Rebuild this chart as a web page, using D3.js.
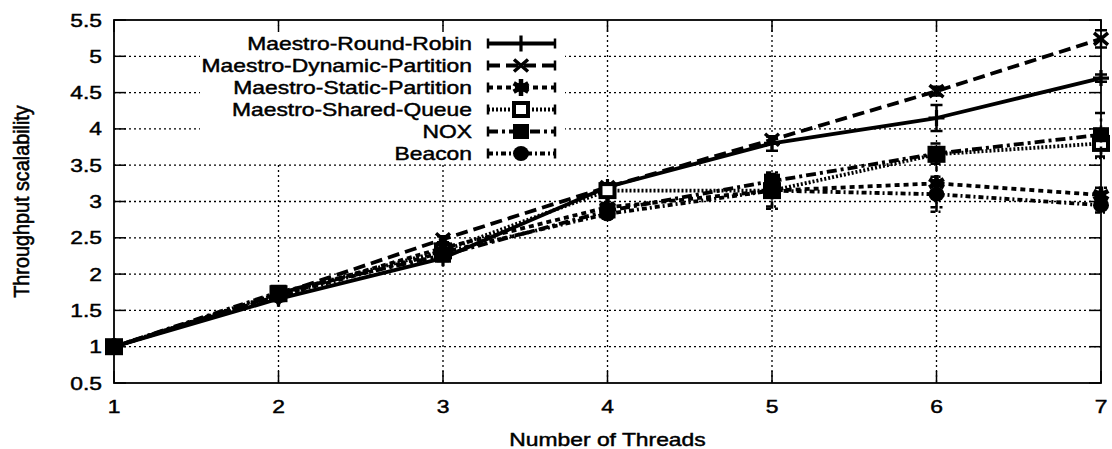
<!DOCTYPE html>
<html><head><meta charset="utf-8">
<script src="https://cdn.jsdelivr.net/npm/d3@7"></script>
<style>html,body{margin:0;padding:0;background:#fff}svg{display:block}text{font-family:"Liberation Sans",Arial,Helvetica,sans-serif;fill:#000;stroke:#000;stroke-width:0.45px}</style>
</head><body><svg id="c" width="1112" height="449"></svg>
<script>
const threads = [1, 2, 3, 4, 5, 6, 7];
const yTicks = [0.5, 1, 1.5, 2, 2.5, 3, 3.5, 4, 4.5, 5, 5.5];
const seriesNames = ["Maestro-Round-Robin", "Maestro-Dynamic-Partition", "Maestro-Static-Partition", "Maestro-Shared-Queue", "NOX", "Beacon"];
const roundRobin       = [1, 1.66, 2.22, 3.2, 3.8, 4.15, 4.7];
const dynamicPartition = [1, 1.72, 2.48, 3.2, 3.85, 4.52, 5.24];
const staticPartition  = [1, 1.7, 2.36, 2.92, 3.15, 3.25, 3.09];
const sharedQueue      = [1, 1.73, 2.32, 3.15, 3.15, 3.65, 3.8];
const nox              = [1, 1.75, 2.26, 2.87, 3.28, 3.66, 3.92];
const beacon           = [1, 1.7, 2.3, 2.83, 3.15, 3.1, 2.95];
const roundRobinErr       = [0, 0.03, 0.04, 0.05, 0.1, 0.18, 0.05];
const dynamicPartitionErr = [0, 0.03, 0.04, 0.05, 0.05, 0.06, 0.12];
const staticPartitionErr  = [0, 0.03, 0.04, 0.06, 0.25, 0.33, 0.1];
const sharedQueueErr      = [0, 0.03, 0.04, 0.05, 0.1, 0.1, 0.2];
const noxErr              = [0, 0.03, 0.04, 0.06, 0.1, 0.14, 0.3];
const beaconErr           = [0, 0.03, 0.04, 0.06, 0.22, 0.24, 0.1];

const seriesValues = [roundRobin, dynamicPartition, staticPartition, sharedQueue, nox, beacon];
const seriesErrs = [roundRobinErr, dynamicPartitionErr, staticPartitionErr, sharedQueueErr, noxErr, beaconErr];
const dashes = [null, "12,6", "5,4", "2,2", "10,4,3,4", "5,3,2,3"];
const markers = ["plus", "cross", "asterisk", "opensquare", "square", "circle"];

const svg = d3.select("#c");
const L = 114, R = 1101, T = 20, B = 383;
const SX = 1.27;
const x = d3.scaleLinear().domain([1, 7]).range([L, R]);
const y = d3.scaleLinear().domain([0.5, 5.5]).range([B, T]);

function label(parent, tx, ty, anchor, str) {
  return parent.append("text").attr("transform", `translate(${tx},${ty}) scale(${SX},1)`)
    .attr("text-anchor", anchor).attr("font-size", 18).text(str);
}

// grid
const g = svg.append("g");
g.selectAll(".gy").data(yTicks.slice(1, -1)).join("line")
  .attr("x1", L).attr("x2", R).attr("y1", d => y(d)).attr("y2", d => y(d))
  .attr("stroke", "#000").attr("stroke-width", 1.3).attr("stroke-dasharray", "2,3");
g.selectAll(".gx").data(threads.slice(1, -1)).join("line")
  .attr("y1", T).attr("y2", B).attr("x1", d => x(d)).attr("x2", d => x(d))
  .attr("stroke", "#000").attr("stroke-width", 1.3).attr("stroke-dasharray", "2,3");

// legend background (opaque key)
svg.append("rect").attr("x", 200).attr("y", 26).attr("width", 365).attr("height", 136).attr("fill", "#fff");

// ticks
const tk = svg.append("g").attr("stroke", "#000").attr("stroke-width", 1.5);
yTicks.forEach(v => {
  tk.append("line").attr("x1", L).attr("x2", L + 12).attr("y1", y(v)).attr("y2", y(v));
  tk.append("line").attr("x1", R).attr("x2", R - 12).attr("y1", y(v)).attr("y2", y(v));
});
threads.forEach(v => {
  tk.append("line").attr("x1", x(v)).attr("x2", x(v)).attr("y1", B).attr("y2", B - 12);
  tk.append("line").attr("x1", x(v)).attr("x2", x(v)).attr("y1", T).attr("y2", T + 12);
});
svg.append("rect").attr("x", L).attr("y", T).attr("width", R - L).attr("height", B - T)
  .attr("fill", "none").attr("stroke", "#000").attr("stroke-width", 1.8);

// tick labels
const yl = svg.append("g");
yTicks.forEach(v => label(yl, 102, y(v) + 6.5, "end", v));
const xl = svg.append("g");
threads.forEach(v => label(xl, x(v), 413, "middle", v));
label(svg, (L + R) / 2, 446, "middle", "Number of Threads");
svg.append("text").attr("transform", `translate(29,${(T + B) / 2}) rotate(-90) scale(1.1,${SX})`)
  .attr("text-anchor", "middle").attr("font-size", 18).text("Throughput scalability");

function drawMarker(sel, type, cx, cy) {
  const s = 8;
  if (type === "plus") {
    sel.append("path").attr("d", `M${cx - s},${cy}H${cx + s}M${cx},${cy - s}V${cy + s}`).attr("stroke", "#000").attr("stroke-width", 3.2).attr("fill", "none");
  } else if (type === "cross") {
    sel.append("path").attr("d", `M${cx - 7},${cy - 6}L${cx + 7},${cy + 6}M${cx - 7},${cy + 6}L${cx + 7},${cy - 6}`).attr("stroke", "#000").attr("stroke-width", 3.5).attr("fill", "none");
  } else if (type === "asterisk") {
    sel.append("path").attr("d", d3.symbol(d3.symbolAsterisk, 200)()).attr("transform", `translate(${cx},${cy})`).attr("stroke", "#000").attr("stroke-width", 4.5).attr("fill", "none");
    sel.append("circle").attr("cx", cx).attr("cy", cy).attr("r", 5).attr("fill", "#000");
  } else if (type === "opensquare") {
    sel.append("rect").attr("x", cx - 7).attr("y", cy - 6.5).attr("width", 14).attr("height", 13).attr("fill", "#fff").attr("stroke", "#000").attr("stroke-width", 4);
  } else if (type === "square") {
    sel.append("rect").attr("x", cx - 8).attr("y", cy - 7.5).attr("width", 16).attr("height", 15).attr("fill", "#000");
  } else if (type === "circle") {
    sel.append("ellipse").attr("cx", cx).attr("cy", cy).attr("rx", 8).attr("ry", 7.5).attr("fill", "#000");
  }
}

const line = d3.line().x((d, i) => x(threads[i])).y(d => y(d));
seriesValues.forEach((vals, k) => {
  const sg = svg.append("g");
  sg.append("path").attr("d", line(vals)).attr("fill", "none").attr("stroke", "#000")
    .attr("stroke-width", 3.8).attr("stroke-dasharray", dashes[k]).attr("stroke-linejoin", "round");
  vals.forEach((v, i) => {
    const e = seriesErrs[k][i];
    if (e > 0) {
      const cx = x(threads[i]);
      sg.append("path").attr("d", `M${cx},${y(v - e)}V${y(v + e)}M${cx - 6},${y(v - e)}H${cx + 6}M${cx - 6},${y(v + e)}H${cx + 6}`)
        .attr("stroke", "#000").attr("stroke-width", 2.5).attr("fill", "none").attr("stroke-dasharray", dashes[k]);
    }
    drawMarker(sg, markers[k], x(threads[i]), y(v));
  });
});

// legend
const lg = svg.append("g");
seriesNames.forEach((name, k) => {
  const base = 50 + k * 22, cy = base - 6.5;
  label(lg, 472, base, "end", name);
  lg.append("line").attr("x1", 488).attr("x2", 555).attr("y1", cy).attr("y2", cy)
    .attr("stroke", "#000").attr("stroke-width", 3.8).attr("stroke-dasharray", dashes[k]);
  lg.append("path").attr("d", `M488,${cy - 5}V${cy + 5}M555,${cy - 5}V${cy + 5}`).attr("stroke", "#000").attr("stroke-width", 2.5);
  drawMarker(lg, markers[k], 521, cy);
});
</script></body></html>
